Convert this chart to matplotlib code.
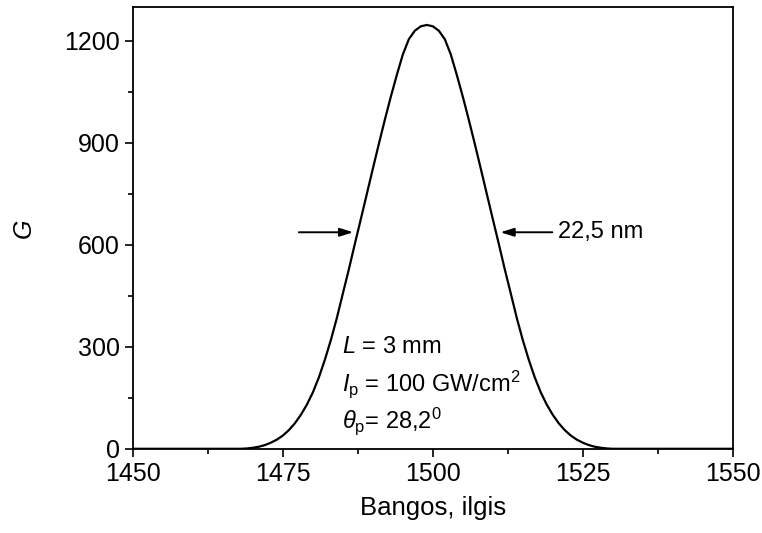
import matplotlib
matplotlib.use("Agg")
import matplotlib.pyplot as plt
from matplotlib.ticker import MultipleLocator

plt.rcParams['font.family'] = ['Liberation Sans', 'DejaVu Sans']
plt.rcParams['mathtext.fontset'] = 'custom'
plt.rcParams['mathtext.rm'] = 'Liberation Sans'
plt.rcParams['mathtext.it'] = 'Liberation Sans:italic'

# gain spectrum (wavelength nm, G)
wavelength = [1450, 1460,
              1468, 1469, 1470, 1471, 1472, 1473, 1474, 1475, 1476, 1477,
              1478, 1479, 1480, 1481, 1482, 1483, 1484, 1485, 1486, 1487,
              1488, 1489, 1490, 1491, 1492, 1493, 1494, 1495, 1496, 1497,
              1498, 1499, 1500, 1501, 1502, 1503, 1504, 1505, 1506, 1507,
              1508, 1509, 1510, 1511, 1512, 1513, 1514, 1515, 1516, 1517,
              1518, 1519, 1520, 1521, 1522, 1523, 1524, 1525, 1526, 1527,
              1528, 1529, 1530,
              1540, 1550]
gain = [0, 0,
        0, 1, 3, 6, 11, 18, 27, 39, 55, 75,
        100, 130, 166, 210, 262, 320, 385, 457, 528, 603,
        676, 750, 824, 897, 968, 1036, 1100, 1160, 1205, 1230,
        1243, 1247, 1243, 1230, 1205, 1160, 1100, 1036, 968, 897,
        824, 750, 676, 603, 528, 457, 385, 320, 262, 210,
        166, 130, 100, 75, 55, 39, 27, 18, 11, 6,
        3, 1, 0,
        0, 0]

fig = plt.figure(figsize=(7.62, 5.33), dpi=100)
ax = fig.add_axes([0.1745, 0.158, 0.787, 0.829])
ax.plot(wavelength, gain, color='black', lw=1.6)

ax.set_xlim(1450, 1550)
ax.set_ylim(0, 1300)
ax.xaxis.set_major_locator(MultipleLocator(25))
ax.xaxis.set_minor_locator(MultipleLocator(12.5))
ax.yaxis.set_major_locator(MultipleLocator(300))
ax.yaxis.set_minor_locator(MultipleLocator(150))
ax.tick_params(which='major', direction='out', length=6, width=1.2, labelsize=18)
ax.tick_params(which='minor', direction='out', length=3.5, width=1.2)
for s in ax.spines.values():
    s.set_linewidth(1.3)

ax.set_xlabel('Bangos, ilgis', fontsize=18.5, labelpad=7)
ax.set_ylabel('G', fontsize=18, style='italic', labelpad=20)

# FWHM arrows
arrow = dict(arrowstyle='-|>,head_length=0.8,head_width=0.25', color='black', lw=1.4)
ax.annotate('', xy=(1487.2, 637), xytext=(1477.2, 637), arrowprops=arrow)
ax.annotate('', xy=(1510.8, 637), xytext=(1520.4, 637), arrowprops=arrow)
ax.text(1520.8, 637, '22,5 nm', fontsize=17, va='center', ha='left')

ax.text(1484.9, 300, r'$\mathit{L}$ = 3 mm', fontsize=17, va='center')
ax.text(1484.9, 190, r'$\mathit{I}_{\mathrm{p}}$ = 100 GW/cm$^{2}$', fontsize=17, va='center')
ax.text(1484.9, 80, r'$\mathit{\theta}_{\mathrm{p}}$= 28,2$^{0}$', fontsize=17, va='center')

fig.savefig('out.png', dpi=100)
